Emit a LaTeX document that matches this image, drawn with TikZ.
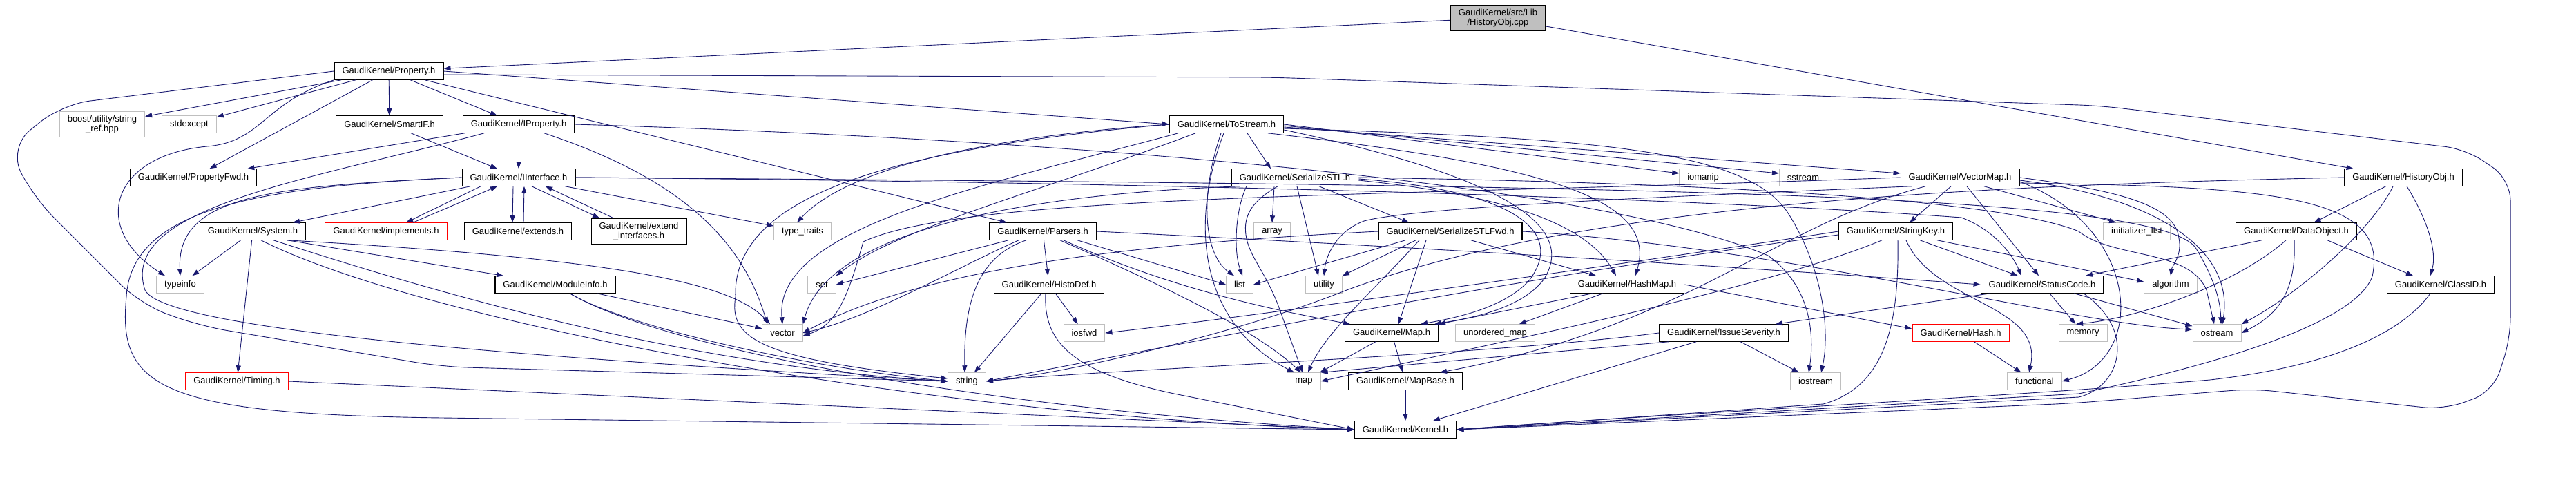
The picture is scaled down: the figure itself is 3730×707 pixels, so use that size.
\documentclass[tikz,border=0pt]{standalone}
\usepackage{fontspec}
\setmainfont{Liberation Sans}
\usetikzlibrary{arrows.meta,positioning}

\definecolor{edgeblue}{HTML}{191970}
\definecolor{sysgray}{HTML}{BFBFBF}

\tikzset{
  header/.style={draw=black, fill=white, line width=1.1pt, inner xsep=11.5pt, inner ysep=0pt,
    minimum height=24.5pt, align=center, font=\fontsize{13}{14.7}\selectfont},
  stdheader/.style={header, draw=sysgray, line width=1pt},
  cutheader/.style={header, draw=red, line width=1pt},
  srcfile/.style={header, fill=sysgray},
  twoline/.style={inner ysep=5.5pt},
  incl/.style={draw=edgeblue, line width=0.9pt, -{Triangle[length=10pt,width=7pt]}}
}

\begin{document}
\begin{tikzpicture}[x=1pt,y=-1pt]
\useasboundingbox (0,0) rectangle (3730,707);

\node[srcfile,twoline] (hobjcpp) at (2169,26) {GaudiKernel/src/Lib\\/HistoryObj.cpp};
\node[header] (property) at (563,103) {GaudiKernel/Property.h};
\node[stdheader,twoline] (boost) at (148,180) {boost/utility/string\\\_ref.hpp};
\node[stdheader] (stdexcept) at (274,180) {stdexcept};
\node[header] (smartif) at (564,180) {GaudiKernel/SmartIF.h};
\node[header] (iproperty) at (751,180) {GaudiKernel/IProperty.h};
\node[header] (tostream) at (1776,180) {GaudiKernel/ToStream.h};
\node[header] (propfwd) at (280,257) {GaudiKernel/PropertyFwd.h};
\node[header] (iinterface) at (751,257) {GaudiKernel/IInterface.h};
\node[header] (serstl) at (1875,257) {GaudiKernel/SerializeSTL.h};
\node[stdheader] (iomanip) at (2466,257) {iomanip};
\node[stdheader] (sstream) at (2611,257) {sstream};
\node[header] (vectormap) at (2838,257) {GaudiKernel/VectorMap.h};
\node[header] (historyobjh) at (3480,257) {GaudiKernel/HistoryObj.h};
\node[header] (system) at (366,335) {GaudiKernel/System.h};
\node[cutheader] (implements) at (559,335) {GaudiKernel/implements.h};
\node[header] (extends) at (750,335) {GaudiKernel/extends.h};
\node[header,twoline] (extendif) at (925,335) {GaudiKernel/extend\\\_interfaces.h};
\node[stdheader] (typetraits) at (1162,335) {type\_traits};
\node[header] (parsers) at (1510,335) {GaudiKernel/Parsers.h};
\node[stdheader] (array) at (1842,335) {array};
\node[header] (serstlfwd) at (2100,335) {GaudiKernel/SerializeSTLFwd.h};
\node[header] (stringkey) at (2745,335) {GaudiKernel/StringKey.h};
\node[stdheader] (initlist) at (3094,335) {initializer\_list};
\node[header] (dataobject) at (3325,335) {GaudiKernel/DataObject.h};
\node[stdheader] (typeinfo) at (261,412) {typeinfo};
\node[header] (moduleinfo) at (804,412) {GaudiKernel/ModuleInfo.h};
\node[stdheader] (set) at (1190,412) {set};
\node[header] (histodef) at (1519,412) {GaudiKernel/HistoDef.h};
\node[stdheader] (list) at (1795,412) {list};
\node[stdheader] (utility) at (1917,412) {utility};
\node[header] (hashmap) at (2356,412) {GaudiKernel/HashMap.h};
\node[header] (statuscode) at (2957,412) {GaudiKernel/StatusCode.h};
\node[stdheader] (algorithm) at (3143,412) {algorithm};
\node[header] (classid) at (3534,412) {GaudiKernel/ClassID.h};
\node[stdheader] (vector) at (1133,482) {vector};
\node[stdheader] (iosfwd) at (1570,482) {iosfwd};
\node[header] (mapgk) at (2015,482) {GaudiKernel/Map.h};
\node[stdheader] (unorderedmap) at (2165,482) {unordered\_map};
\node[header] (issueseverity) at (2496,482) {GaudiKernel/IssueSeverity.h};
\node[cutheader] (hash) at (2839,482) {GaudiKernel/Hash.h};
\node[stdheader] (memory) at (3016,482) {memory};
\node[stdheader] (ostream) at (3210,482) {ostream};
\node[cutheader] (timing) at (343,552) {GaudiKernel/Timing.h};
\node[stdheader] (string) at (1400,552) {string};
\node[stdheader] (map) at (1888,552) {map};
\node[header] (mapbase) at (2035,552) {GaudiKernel/MapBase.h};
\node[stdheader] (iostream) at (2629,552) {iostream};
\node[stdheader] (functional) at (2946,552) {functional};
\node[header] (kernel) at (2035,622) {GaudiKernel/Kernel.h};

% HistoryObj.cpp
\draw[incl] (hobjcpp) -- (property);
\draw[incl] (hobjcpp) -- (historyobjh);

% Property.h
\draw[incl] (property) -- (boost);
\draw[incl] (property) -- (stdexcept);
\draw[incl] (property) -- (smartif);
\draw[incl] (property) -- (iproperty);
\draw[incl] (property) -- (propfwd);
\draw[incl] (property.south west) .. controls (380,150) and (380,205) .. (300,212) .. controls (160,225) and (130,330) .. ([xshift=-22pt]typeinfo.north);
\draw[incl] (property) -- (parsers);
\draw[incl] (property.east) -- (tostream.west);
\draw[incl,rounded corners=30pt] ([yshift=-5pt]property.east) -- (1840,112) -- (3040,153) -- (3571,216) -- (3635,260) -- (3635,490) -- (3610,567) -- (3539,593) -- (3261,563) -- (3000,584) -- (kernel.east);
\draw[incl,rounded corners=40pt] (property.west) -- (90,151) -- (12,214) -- (49,286) -- (204,441) -- (290,472) -- (640,531) -- (string.west);

% IProperty.h
\draw[incl] (iproperty) -- (iinterface);
\draw[incl] (iproperty) -- (propfwd);
\draw[incl] ([xshift=37pt]iproperty.south) .. controls (960,250) and (1070,330) .. ([xshift=-22pt]vector.north);
\draw[incl] ([xshift=-50pt]iproperty.south) .. controls (450,260) and (170,300) .. (210,420) .. controls (240,480) and (800,520) .. (string.west);
\draw[incl] (iproperty.east) .. controls (1500,200) and (2300,260) .. (2560,370) .. controls (2630,420) and (2625,500) .. ([xshift=-10pt]iostream.north);

% IInterface.h
\draw[incl] (smartif) -- (iinterface);
\draw[incl] ([xshift=-70pt]iinterface.south) -- ([xshift=58pt]system.north);
\draw[incl] ([xshift=-55pt]iinterface.south) -- ([xshift=29pt]implements.north);
\draw[incl] ([xshift=39pt]implements.north) -- ([xshift=-31pt]iinterface.south);
\draw[incl] ([xshift=-8pt]iinterface.south) -- ([xshift=-8pt]extends.north);
\draw[incl] ([xshift=8pt]extends.north) -- ([xshift=8pt]iinterface.south);
\draw[incl] ([xshift=19pt]iinterface.south) -- ([xshift=-57pt]extendif.north);
\draw[incl] ([xshift=-37pt]extendif.north) -- ([xshift=39pt]iinterface.south);
\draw[incl] (iinterface) -- (typetraits);
\draw[incl] (iinterface.west) .. controls (400,270) and (255,280) .. (typeinfo.north);
\draw[incl] (iinterface.west) .. controls (380,270) and (190,300) .. (183,430) .. controls (170,560) and (230,600) .. (640,605) -- (kernel.west);
\draw[incl] (iinterface.east) .. controls (1800,265) and (2500,290) .. (2840,315) .. controls (2880,330) and (2910,360) .. ([xshift=-30pt]statuscode.north);
\draw[incl] (iinterface.east) .. controls (2400,268) and (3130,280) .. (3180,360) .. controls (3210,410) and (3215,440) .. ([xshift=6pt]ostream.north);

% System.h, ModuleInfo.h, Timing.h
\draw[incl] (system) -- (typeinfo);
\draw[incl] (system) -- (timing);
\draw[incl] ([xshift=50pt]system.south) -- ([xshift=-75pt]moduleinfo.north);
\draw[incl] ([xshift=50pt]system.south) .. controls (900,375) and (1060,410) .. ([xshift=-18pt]vector.north);
\draw[incl] ([xshift=30pt]system.south) .. controls (650,430) and (1000,530) .. (string.west);
\draw[incl] ([xshift=12pt]system.south) .. controls (600,460) and (1300,600) .. (kernel.west);
\draw[incl] (moduleinfo) -- (vector);
\draw[incl] (moduleinfo) .. controls (900,470) and (1150,530) .. (string.west);
\draw[incl] (moduleinfo) .. controls (950,500) and (1400,590) .. (kernel.west);
\draw[incl] (timing.east) -- (kernel.west);

% ToStream.h
\draw[incl] ([xshift=30pt]tostream.south) -- ([xshift=-35pt]serstl.north);
\draw[incl] (tostream.east) -- ([yshift=6pt]iomanip.west);
\draw[incl] ([yshift=-2pt]tostream.east) -- ([yshift=6pt]sstream.west);
\draw[incl] ([yshift=-4pt]tostream.east) -- ([yshift=6pt]vectormap.west);
\draw[incl] ([xshift=-8pt]tostream.south) .. controls (1735,290) and (1745,370) .. ([xshift=-8pt]list.north);
\draw[incl] ([xshift=-4pt]tostream.south) .. controls (1720,330) and (1740,470) .. ([xshift=-14pt]map.north);
\draw[incl] ([xshift=60pt]tostream.south) .. controls (2250,240) and (2400,290) .. ([xshift=12pt]hashmap.north);
\draw[incl] (tostream.west) .. controls (1400,200) and (1220,250) .. ([xshift=-8pt]typetraits.north);
\draw[incl] ([xshift=-70pt]tostream.south) .. controls (1420,270) and (1120,330) .. (vector.north);
\draw[incl] ([xshift=-45pt]tostream.south) .. controls (1500,280) and (1300,330) .. (set.north east);
\draw[incl] (tostream.west) .. controls (1300,215) and (1060,280) .. (1065,430) .. controls (1055,490) and (1100,520) .. ([yshift=4pt]string.west);
\draw[incl] ([yshift=-6pt]tostream.east) .. controls (2300,200) and (2530,215) .. (2590,310) .. controls (2640,390) and (2650,480) .. ([xshift=8pt]iostream.north);
\draw[incl] ([yshift=-8pt]tostream.east) .. controls (2150,250) and (2290,320) .. (2235,405) .. controls (2200,450) and (2120,462) .. ([xshift=62pt]mapgk.north);

% Parsers.h, HistoDef.h
\draw[incl] ([xshift=-50pt]parsers.south) -- (set.east);
\draw[incl] ([xshift=-35pt]parsers.south) .. controls (1380,390) and (1260,460) .. (vector.east);
\draw[incl] ([xshift=-24pt]parsers.south) .. controls (1420,370) and (1395,430) .. ([xshift=-3pt]string.north);
\draw[incl] (parsers) -- (histodef);
\draw[incl] ([xshift=25pt]parsers.south) .. controls (1700,420) and (1820,480) .. ([xshift=-4pt]map.north);
\draw[incl] ([xshift=30pt]parsers.south) .. controls (1700,420) and (1850,450) .. ([xshift=-60pt]mapgk.north);
\draw[incl] ([xshift=50pt]parsers.south) -- (list.west);
\draw[incl] (parsers.east) .. controls (2000,355) and (2500,385) .. (statuscode.west);
\draw[incl] (histodef) -- (string);
\draw[incl] (histodef) -- (iosfwd);
\draw[incl] ([xshift=-5pt]histodef.south) .. controls (1510,500) and (1560,540) .. (1700,570) -- (kernel.west);

% SerializeSTL.h, SerializeSTLFwd.h
\draw[incl] ([xshift=-30pt]serstl.south) -- (array.north);
\draw[incl] ([xshift=3pt]serstl.south) -- ([xshift=-8pt]utility.north);
\draw[incl] ([xshift=35pt]serstl.south) -- ([xshift=-60pt]serstlfwd.north);
\draw[incl] ([xshift=-80pt]serstl.south) .. controls (1500,280) and (1200,330) .. (vector.north east);
\draw[incl] ([xshift=-70pt]serstl.south) .. controls (1790,300) and (1785,360) .. ([xshift=4pt]list.north);
\draw[incl] ([xshift=-25pt]serstl.south) .. controls (1815,290) and (1800,310) .. (1804,340) .. controls (1808,370) and (1830,390) .. (1850,440) -- ([xshift=-2pt]map.north);
\draw[incl] ([yshift=-4pt]serstl.east) .. controls (2200,285) and (2300,330) .. ([xshift=-16pt]hashmap.north);
\draw[incl] ([yshift=-2pt]serstl.east) .. controls (2180,275) and (2270,330) .. (2215,405) .. controls (2180,445) and (2110,460) .. ([xshift=42pt]mapgk.north);
\draw[incl] (serstl.east) .. controls (2500,265) and (2900,290) .. (3010,335) .. controls (3060,375) and (3170,360) .. (3195,420) -- ([xshift=-4pt]ostream.north);
\draw[incl] ([xshift=-65pt]serstlfwd.south) -- (list.east);
\draw[incl] ([xshift=-50pt]serstlfwd.south) -- (utility.north east);
\draw[incl] ([xshift=-45pt]serstlfwd.south) .. controls (1990,420) and (1920,480) .. ([xshift=6pt]map.north);
\draw[incl] ([xshift=-35pt]serstlfwd.south) -- ([xshift=10pt]mapgk.north);
\draw[incl] ([xshift=30pt]serstlfwd.south) -- ([xshift=-45pt]hashmap.north);
\draw[incl] (serstlfwd.west) .. controls (1700,350) and (1350,380) .. (vector.east);
\draw[incl] (serstlfwd.east) .. controls (2600,360) and (3000,470) .. ([yshift=5pt]ostream.west);

% HashMap.h, Map.h, MapBase.h
\draw[incl] ([xshift=-50pt]hashmap.south) -- (mapgk.north east);
\draw[incl] (hashmap) -- (unorderedmap);
\draw[incl] (hashmap.east) -- ([yshift=6pt]hash.west);
\draw[incl] (mapgk) -- (map);
\draw[incl] (mapgk) -- (mapbase);
\draw[incl] (mapbase) -- (kernel);

% VectorMap.h
\draw[incl] ([xshift=-13pt]vectormap.south) -- ([xshift=20pt]stringkey.north);
\draw[incl] ([xshift=10pt]vectormap.south) -- ([xshift=-5pt]statuscode.north);
\draw[incl] ([xshift=-50pt]vectormap.south) .. controls (2560,330) and (2450,470) .. ([xshift=50pt]mapbase.north);
\draw[incl] ([xshift=-70pt]vectormap.south) .. controls (2400,285) and (2050,300) .. (1975,320) .. controls (1935,335) and (1920,370) .. (utility.north);
\draw[incl] (vectormap.west) .. controls (2000,285) and (1400,280) .. (1250,350) .. controls (1230,420) and (1215,470) .. ([yshift=-4pt]vector.east);
\draw[incl] ([xshift=35pt]vectormap.south) -- ([xshift=-30pt]initlist.north);
\draw[incl] (vectormap.east) .. controls (3060,275) and (3150,295) .. (3155,345) .. controls (3160,370) and (3145,385) .. (algorithm.north);
\draw[incl] ([yshift=-4pt]vectormap.east) .. controls (3120,285) and (3235,360) .. ([xshift=8pt]ostream.north);
\draw[incl] ([yshift=-6pt]vectormap.east) .. controls (3100,330) and (3110,520) .. (functional.east);
\draw[incl] ([yshift=-8pt]vectormap.east) .. controls (3300,270) and (3460,285) .. (3435,400) .. controls (3410,470) and (3200,530) .. (3010,570) -- (kernel.east);

% StringKey.h
\draw[incl] (stringkey) -- (statuscode);
\draw[incl] ([xshift=15pt]stringkey.south) .. controls (2800,440) and (2960,440) .. ([xshift=-8pt]functional.north);
\draw[incl] ([xshift=3pt]stringkey.south) .. controls (2750,470) and (2730,560) .. (2640,585) -- (kernel.east);
\draw[incl] ([xshift=-20pt]stringkey.south) .. controls (2550,420) and (2150,500) .. (map.east);
\draw[incl] (stringkey.west) .. controls (2300,390) and (1800,460) .. (iosfwd.east);
\draw[incl] ([yshift=-5pt]stringkey.west) .. controls (2200,400) and (1700,500) .. (string.east);
\draw[incl] ([xshift=60pt]stringkey.south) -- ([yshift=4pt]algorithm.west);

% StatusCode.h, IssueSeverity.h, Hash.h
\draw[incl] (statuscode) -- (memory);
\draw[incl] (statuscode) -- (ostream);
\draw[incl] ([xshift=-75pt]statuscode.south) -- ([xshift=75pt]issueseverity.north);
\draw[incl] ([xshift=60pt]statuscode.south) .. controls (3095,480) and (3070,560) .. (3010,575) -- (kernel.east);
\draw[incl] ([xshift=-80pt]issueseverity.south) -- (map.north east);
\draw[incl] (issueseverity.west) .. controls (2150,515) and (1600,535) .. (string.east);
\draw[incl] (issueseverity) -- (iostream);
\draw[incl] ([xshift=-40pt]issueseverity.south) -- ([xshift=40pt]kernel.north);
\draw[incl] (hash) -- (functional);

% HistoryObj.h, DataObject.h, ClassID.h
\draw[incl] (historyobjh) -- (dataobject);
\draw[incl] ([xshift=5pt]historyobjh.south) .. controls (3510,310) and (3530,360) .. ([xshift=-15pt]classid.north);
\draw[incl] ([xshift=-15pt]historyobjh.south) .. controls (3430,340) and (3320,430) .. (ostream.north east);
\draw[incl] (historyobjh.west) .. controls (2900,268) and (2300,290) .. (1950,420) .. controls (1800,480) and (1550,540) .. (string.east);
\draw[incl] ([xshift=-50pt]dataobject.south) -- ([xshift=63pt]statuscode.north);
\draw[incl] ([xshift=-15pt]dataobject.south) .. controls (3240,410) and (3100,460) .. ([xshift=-10pt]memory.north);
\draw[incl] ([xshift=-3pt]dataobject.south) .. controls (3325,420) and (3300,455) .. (ostream.east);
\draw[incl] ([xshift=45pt]dataobject.south) -- ([xshift=-40pt]classid.north);
\draw[incl] ([xshift=-15pt]classid.south) .. controls (3480,480) and (3380,530) .. (3200,550) .. controls (2900,575) and (2400,600) .. (kernel.east);
\end{tikzpicture}
\end{document}
